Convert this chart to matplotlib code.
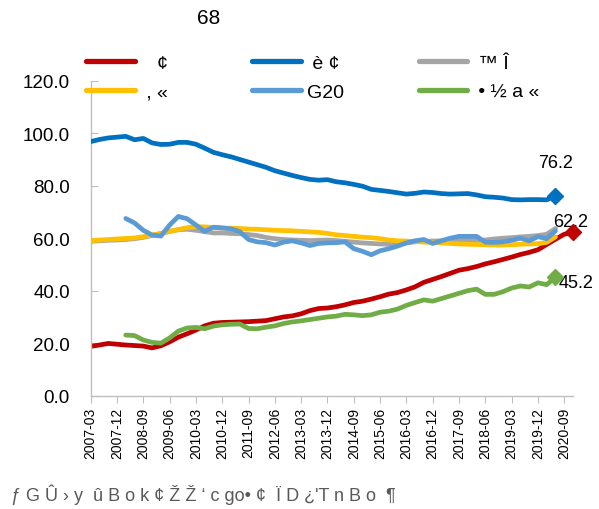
import matplotlib
matplotlib.use("Agg")
import matplotlib.pyplot as plt

plt.rcParams["font.family"] = ["Liberation Sans", "DejaVu Sans"]

# quarterly categories 2007-03 .. 2020-12
quarters = [f"{y}-{m:02d}" for y in range(2007, 2021) for m in (3, 6, 9, 12)]

title = "68"
footer = "ƒ G Û › y  û B o k ¢ Ž Ž ‘ c go• ¢  Ï D ¿'T n B o  ¶"

labels = ["   ¢", " è ¢", " ™ Î", " , «", "G20", " • ½ a «"]
colors = ["#C00000", "#0070C0", "#A5A5A5", "#FFC000", "#5B9BD5", "#70AD47"]

red = [18.8, 19.3, 19.9, 19.6, 19.3, 19.1, 18.9, 18.2, 19.0, 20.5, 22.3, 23.6,
       25.0, 26.6, 27.6, 27.9, 28.0, 28.1, 28.2, 28.4, 28.6, 29.3, 30.0, 30.4,
       31.2, 32.4, 33.2, 33.4, 33.9, 34.6, 35.5, 36.0, 36.8, 37.7, 38.7, 39.3,
       40.3, 41.5, 43.2, 44.3, 45.4, 46.6, 47.8, 48.4, 49.2, 50.2, 51.0, 51.9,
       52.8, 53.8, 54.6, 55.6, 57.6, 59.6, 61.5, 62.2]
blue = [96.8, 97.6, 98.2, 98.5, 98.8, 97.5, 98.0, 96.3, 95.7, 95.8, 96.5, 96.5,
        95.8, 94.3, 92.7, 91.8, 91.0, 90.0, 89.0, 88.0, 87.0, 85.7, 84.8, 83.9,
        83.1, 82.4, 82.1, 82.3, 81.5, 81.1, 80.5, 79.8, 78.6, 78.2, 77.8, 77.3,
        76.8, 77.1, 77.6, 77.4, 77.0, 76.8, 76.9, 77.0, 76.5, 75.8, 75.6, 75.3,
        74.7, 74.6, 74.7, 74.7, 74.6, 76.2]
gray = [58.8, 59.0, 59.2, 59.3, 59.5, 59.8, 60.3, 61.0, 61.8, 62.6, 63.2, 63.4,
        63.0, 62.5, 62.0, 62.0, 61.8, 61.7, 61.4, 61.0, 60.3, 59.8, 59.5, 59.3,
        59.2, 59.1, 59.2, 59.3, 59.1, 58.8, 58.5, 58.2, 58.0, 57.8, 57.7, 57.9,
        58.2, 58.6, 58.8, 58.9, 59.0, 59.0, 59.1, 59.2, 59.2, 59.3, 59.7, 60.0,
        60.2, 60.5, 60.7, 61.0, 61.5, 63.7]
yellow = [59.0, 59.3, 59.5, 59.7, 59.9, 60.1, 60.6, 61.2, 61.8, 62.6, 63.3, 64.0,
          64.4, 64.3, 64.1, 63.9, 63.8, 63.7, 63.5, 63.4, 63.2, 63.0, 62.9, 62.8,
          62.6, 62.4, 62.2, 61.8, 61.3, 61.0, 60.7, 60.4, 60.2, 59.8, 59.3, 59.0,
          58.9, 58.7, 58.5, 58.4, 58.2, 58.0, 57.8, 57.7, 57.6, 57.5, 57.4, 57.4,
          57.5, 57.7, 57.8, 57.9, 58.4, 60.5]
# G20 and the last group start at 2008-03
g20 = [None] * 4 + [
    67.5, 65.8, 63.0, 61.2, 60.8, 65.0, 68.3, 67.4, 65.0, 62.6, 64.2, 63.9,
    63.6, 62.5, 59.5, 58.6, 58.3, 57.4, 58.5, 59.0, 58.2, 57.2, 58.0, 58.2,
    58.3, 58.6, 56.0, 55.0, 53.7, 55.2, 56.0, 57.0, 58.2, 59.0, 59.5, 58.0,
    59.0, 60.0, 60.7, 60.7, 60.7, 58.5, 58.4, 58.6, 59.2, 60.0, 59.0, 60.6,
    59.8, 62.8]
green = [None] * 4 + [
    23.1, 22.9, 21.2, 20.3, 20.0, 22.0, 24.6, 25.8, 26.0, 25.5, 26.5, 27.0,
    27.2, 27.3, 25.6, 25.5, 26.1, 26.6, 27.5, 28.1, 28.5, 29.0, 29.5, 30.0,
    30.3, 31.0, 30.8, 30.5, 30.8, 31.8, 32.2, 33.0, 34.4, 35.5, 36.5, 36.0,
    37.0, 38.0, 39.0, 40.0, 40.6, 38.6, 38.6, 39.6, 41.0, 41.8, 41.4, 43.0,
    42.3, 45.2]

series = [red, blue, gray, yellow, g20, green]
# series whose last point gets a diamond + value label, with label offset (pt)
highlight = {0: (-2, 8), 1: (0, 24), 5: (15, -4)}

fig = plt.figure(figsize=(5.99, 5.10), dpi=100)
ax = fig.add_axes([0.1514, 0.2222, 0.8052, 0.6176])

handles = []
for k, (vals, col, lab) in enumerate(zip(series, colors, labels)):
    xs = [i for i, v in enumerate(vals) if v is not None]
    ys = [v for v in vals if v is not None]
    line, = ax.plot(xs, ys, color=col, lw=3.4, solid_capstyle="round",
                    solid_joinstyle="round", label=lab, zorder=2 + k)
    handles.append(line)
    if k in highlight:
        ax.plot(xs[-1], ys[-1], marker="D", ms=8, color=col, clip_on=False,
                zorder=10 + k)
        dx, dy = highlight[k]
        ax.annotate(f"{ys[-1]:.1f}", (xs[-1], ys[-1]), xytext=(dx, dy),
                    textcoords="offset points", ha="center", va="center",
                    fontsize=13, color="#000000", annotation_clip=False)

ax.set_xlim(0, 55)
ax.set_ylim(0, 120)
ax.set_yticks(range(0, 121, 20))
ax.set_yticklabels([f"{v:.1f}" for v in range(0, 121, 20)], fontsize=13.5)
tick_pos = list(range(0, len(quarters), 3))
ax.set_xticks(tick_pos)
ax.set_xticklabels([quarters[i] for i in tick_pos], rotation=90, fontsize=10)

for s in ("top", "right"):
    ax.spines[s].set_visible(False)
for s in ("left", "bottom"):
    ax.spines[s].set_color("#BFBFBF")
    ax.spines[s].set_linewidth(1.0)
ax.tick_params(axis="y", direction="in", length=5, color="#BFBFBF", pad=15)
ax.tick_params(axis="x", direction="out", length=5, color="#BFBFBF", pad=3)

fig.text(0.349, 0.963, title, ha="center", va="center", fontsize=15)

# legend: three columns of two entries
col_x = [0.1444, 0.4215, 0.6987]
for c in range(3):
    leg = fig.legend(handles=[handles[c], handles[c + 3]], loc="upper left",
                     bbox_to_anchor=(col_x[c], 0.892), frameon=False,
                     fontsize=14, handlelength=2.5, handletextpad=0.28,
                     labelspacing=0.6, borderpad=0, borderaxespad=0)
    for ln in leg.get_lines():
        ln.set_linewidth(3.8)
        ln.set_solid_capstyle("round")

fig.text(0.018, 0.029, footer, ha="left", va="center", fontsize=13,
         color="#595959")

fig.savefig("out.png", dpi=100)
